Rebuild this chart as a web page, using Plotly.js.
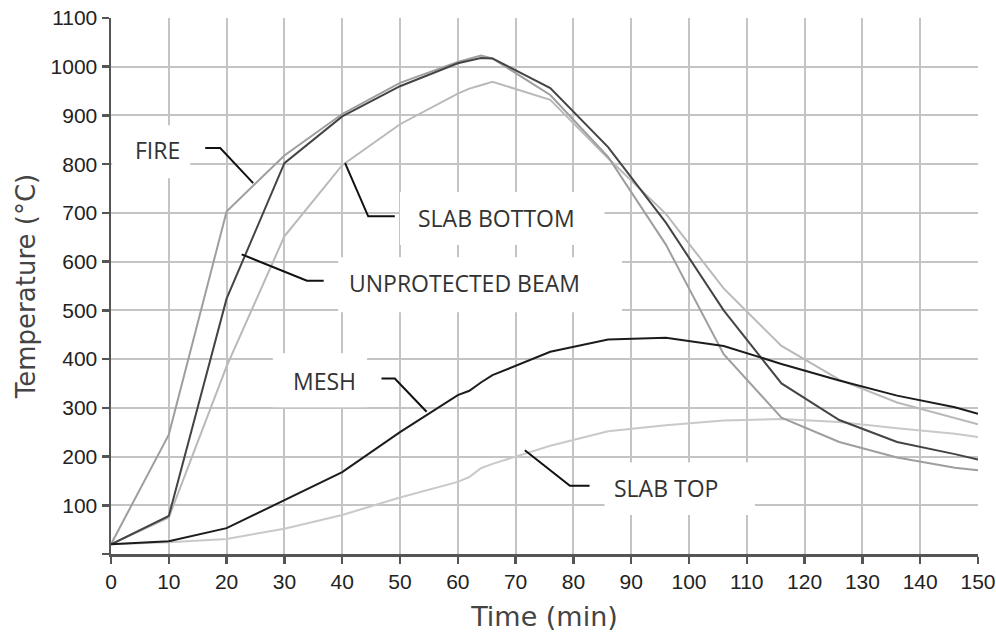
<!DOCTYPE html>
<html>
<head>
<meta charset="utf-8">
<script src="https://cdn.plot.ly/plotly-3.0.1.min.js"></script>
<style>html,body{margin:0;padding:0;background:#fff;}#chart{width:996px;height:641px;}</style>
</head>
<body>
<div id="chart"></div>
<script>
// ---- data ----
const time       = [0, 10, 20, 30, 40, 50, 60, 62, 64, 66, 76, 86, 96, 106, 116, 126, 136, 146, 150];
const fire       = [20, 245, 703, 818, 903, 967, 1010, 1016, 1023, 1017, 942, 815, 635, 410, 280, 230, 198, 177, 172];
const beam       = [20, 78, 524, 802, 898, 960, 1007, 1012, 1018, 1017, 956, 835, 680, 500, 350, 275, 230, 205, 194];
const slabBottom = [20, 75, 385, 652, 798, 882, 945, 955, 962, 969, 932, 812, 698, 545, 427, 358, 311, 278, 266];
const mesh       = [20, 26, 53, 110, 168, 250, 326, 335, 352, 367, 415, 440, 444, 427, 390, 356, 325, 301, 288];
const slabTop    = [20, 24, 31, 52, 80, 116, 148, 158, 176, 185, 222, 252, 264, 274, 277, 271, 258, 247, 240];

const xTicks = [0,10,20,30,40,50,60,70,80,90,100,110,120,130,140,150];
const yTicks = [0,100,200,300,400,500,600,700,800,900,1000,1100];
const yTickText = ['', '100','200','300','400','500','600','700','800','900','1000','1100'];

const labels = ['FIRE', 'SLAB BOTTOM', 'UNPROTECTED BEAM', 'MESH', 'SLAB TOP'];

// label placement (data coordinates)
const labelPos = [
  {x: 8.0,  y: 829, box: [0.2, 771, 13.7, 880], lead: [[16.3,833],[18.9,833],[24.6,761]]},
  {x: 66.7, y: 689, box: [50.0, 634, 85.4, 743], lead: [[40.5,802],[44.5,693],[49.1,693]]},
  {x: 61.2, y: 557, box: [39.3, 496, 88.4, 609], lead: [[22.6,615],[33.9,561],[36.8,561]]},
  {x: 37.0, y: 356, box: [28.0, 301, 44.3, 412], lead: [[46.8,360],[49.1,360],[54.6,292]]},
  {x: 96.0, y: 136, box: [85.4, 80, 111.4, 188], lead: [[71.6,213],[79.4,140],[82.8,140]]}
];

function tr(y, color) {
  return {x: time, y: y, type: 'scatter', mode: 'lines',
          line: {color: color, width: 2}, hoverinfo: 'skip', showlegend: false};
}
const traces = [
  tr(slabTop, '#c9c9c9'),
  tr(slabBottom, '#b9b9b9'),
  tr(fire, '#9e9e9e'),
  tr(beam, '#444444'),
  tr(mesh, '#1c1c1c')
];

const shapes = [];
const annotations = [];
labelPos.forEach((p, i) => {
  shapes.push({type: 'rect', xref: 'x', yref: 'y', x0: p.box[0], y0: p.box[1], x1: p.box[2], y1: p.box[3],
               fillcolor: '#ffffff', line: {width: 0}, layer: 'between'});
  const l = p.lead;
  shapes.push({type: 'path', xref: 'x', yref: 'y',
               path: `M ${l[0][0]} ${l[0][1]} L ${l[1][0]} ${l[1][1]} L ${l[2][0]} ${l[2][1]}`,
               line: {color: '#111111', width: 2}, layer: 'above'});
  annotations.push({x: p.x, y: p.y, xref: 'x', yref: 'y', text: labels[i], showarrow: false,
                    font: {family: 'Open Sans, sans-serif', size: 23, color: '#333333'},
                    xanchor: 'center', yanchor: 'middle'});
});

const tickFont = {family: 'Liberation Sans Narrow, Arial Narrow, Liberation Sans, sans-serif', size: 21, color: '#222222'};

const layout = {
  width: 996, height: 641,
  margin: {l: 111, r: 18, t: 18, b: 87.3},
  paper_bgcolor: '#ffffff', plot_bgcolor: '#ffffff',
  xaxis: {
    range: [0, 150], tickvals: xTicks, ticktext: xTicks.map(String),
    showgrid: true, gridcolor: '#c4c4c4', gridwidth: 2,
    showline: true, linecolor: '#555555', linewidth: 2.5,
    ticks: 'outside', ticklen: 7, tickwidth: 2.5, tickcolor: '#555555',
    tickfont: tickFont, zeroline: false,
    title: {text: 'Time (min)', font: {family: 'DejaVu Sans, sans-serif', size: 27, color: '#444444'}, standoff: 16}
  },
  yaxis: {
    range: [0, 1100], tickvals: yTicks, ticktext: yTickText,
    showgrid: true, gridcolor: '#c4c4c4', gridwidth: 2,
    showline: true, linecolor: '#555555', linewidth: 2.5,
    ticks: 'outside', ticklen: 7, tickwidth: 2.5, tickcolor: '#555555',
    tickfont: tickFont, zeroline: false,
    title: {text: 'Temperature (°C)', font: {family: 'DejaVu Sans, sans-serif', size: 26, color: '#444444'}, standoff: 8}
  },
  shapes: shapes,
  annotations: annotations,
  showlegend: false
};

Plotly.newPlot('chart', traces, layout, {staticPlot: true, displayModeBar: false});
</script>
</body>
</html>
